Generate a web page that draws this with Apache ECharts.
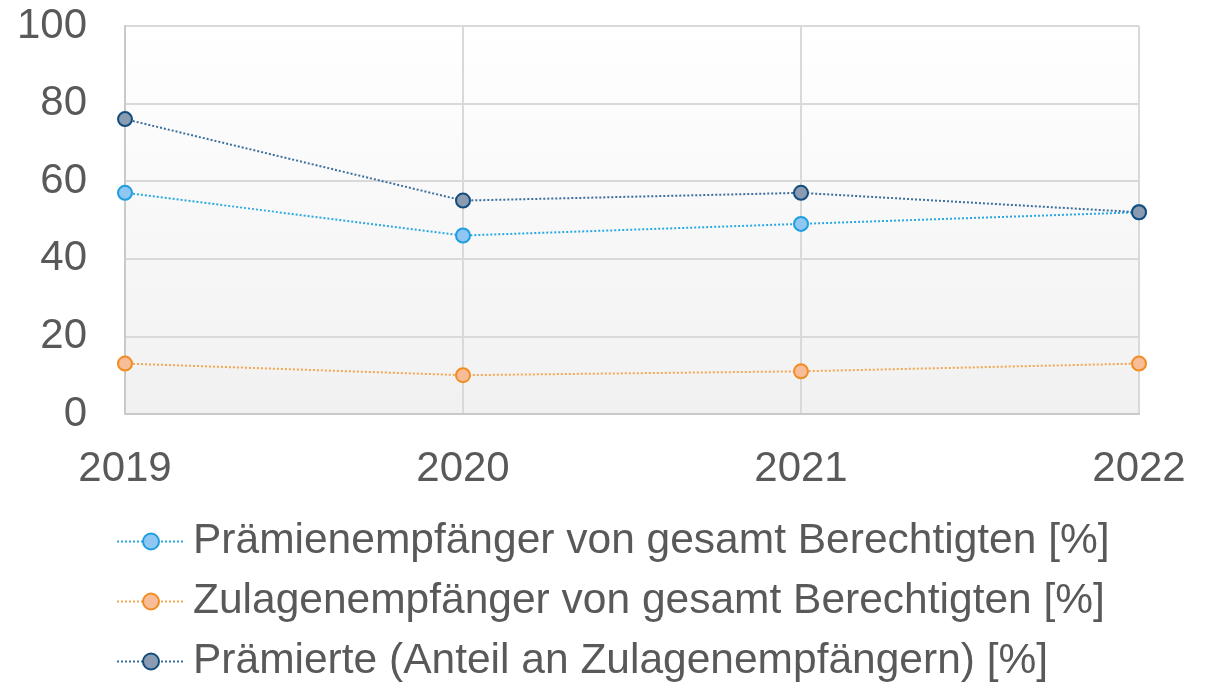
<!DOCTYPE html>
<html>
<head>
<meta charset="utf-8">
<script src="https://cdn.jsdelivr.net/npm/echarts@6/dist/echarts.min.js"></script>
<style>
  html, body { margin: 0; padding: 0; background: #fff; }
  #chart { width: 1216px; height: 684px; }
</style>
</head>
<body>
<div id="chart"></div>
<script>
const years = ['2019', '2020', '2021', '2022'];
const praemienEmpfaenger = [57, 46, 49, 52];
const zulagenEmpfaenger = [13, 10, 11, 13];
const praemierte = [76, 55, 57, 52];
const seriesNames = [
  'Prämienempfänger von gesamt Berechtigten [%]',
  'Zulagenempfänger von gesamt Berechtigten [%]',
  'Prämierte (Anteil an Zulagenempfängern) [%]'
];

const font = 'Liberation Sans, Arial, sans-serif';

function lineSeries(name, data, lineColor, fill, border) {
  return {
    name,
    type: 'line',
    data,
    symbol: 'circle',
    symbolSize: 14,
    lineStyle: { color: lineColor, width: 2, type: 'dotted' },
    itemStyle: { color: fill, borderColor: border, borderWidth: 2 },
    emphasis: { disabled: true }
  };
}

const chart = echarts.init(document.getElementById('chart'));
chart.setOption({
  animation: false,
  grid: {
    left: 125,
    right: 77,
    top: 26,
    bottom: 270,
    show: true,
    borderWidth: 0,
    backgroundColor: new echarts.graphic.LinearGradient(0, 0, 0, 1, [
      { offset: 0, color: '#ffffff' },
      { offset: 1, color: '#f1f1f1' }
    ])
  },
  legend: {
    orient: 'vertical',
    left: 116,
    top: 520,
    height: 200,
    padding: 0,
    itemWidth: 68,
    itemHeight: 20,
    itemGap: 17,
    textStyle: { fontFamily: font, fontSize: 42.5, color: '#595959', padding: [0, 0, 0, 3] },
    data: seriesNames
  },
  xAxis: {
    type: 'category',
    data: years,
    boundaryGap: false,
    axisLine: { lineStyle: { color: '#c9c9c9', width: 2 } },
    axisTick: { show: false },
    axisLabel: { fontFamily: font, fontSize: 42, color: '#595959', margin: 34 },
    splitLine: { show: true, lineStyle: { color: '#d9d9d9', width: 2 } }
  },
  yAxis: {
    type: 'value',
    min: 0,
    max: 100,
    interval: 20,
    axisLine: { show: true, lineStyle: { color: '#c9c9c9', width: 2 } },
    axisTick: { show: false },
    axisLabel: { fontFamily: font, fontSize: 42, color: '#595959', margin: 38 },
    splitLine: { show: true, lineStyle: { color: '#d9d9d9', width: 2 } }
  },
  series: [
    lineSeries(seriesNames[0], praemienEmpfaenger, '#2aa9e0', '#8fc6f2', '#1f9ee0'),
    lineSeries(seriesNames[1], zulagenEmpfaenger, '#f5a54e', '#f8bd98', '#f08d22'),
    lineSeries(seriesNames[2], praemierte, '#3b6f9d', '#8b9bb2', '#124d7e')
  ]
});
</script>
</body>
</html>
